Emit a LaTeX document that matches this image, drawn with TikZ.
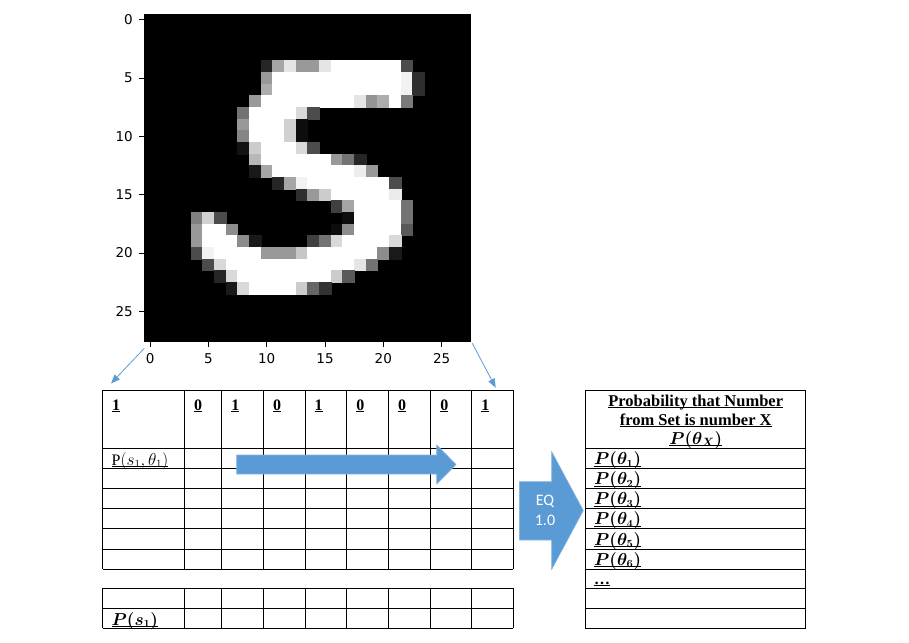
\documentclass[tikz,border=0pt]{standalone}
\usepackage{fontspec}
\setmainfont{Liberation Serif}
\newfontfamily\tickfont{DejaVu Sans}
\newfontfamily\calfont{Carlito}
\usetikzlibrary{arrows.meta}
\definecolor{arrowblue}{RGB}{91,155,213}
\newsavebox{\ulbox}
\newcommand{\ulin}[1]{\sbox{\ulbox}{#1}\rlap{\rule[-1.8pt]{\wd\ulbox}{0.8pt}}\usebox{\ulbox}}
\newcommand{\pxs}{11.66}

\begin{document}
\begin{tikzpicture}
    [ x=1pt, y=-1pt,
      cell/.style={anchor=base west, inner sep=0pt, font=\fontsize{16}{19}\selectfont},
      title/.style={anchor=base, inner sep=0pt, font=\fontsize{16.5}{19}\selectfont},
      tick/.style={font=\tickfont\fontsize{13.5}{14}\selectfont, inner sep=0pt},
      gridline/.style={line width=0.9pt},
      thinarrow/.style={arrowblue, line width=0.8pt, -{Triangle[length=9pt,width=7pt]}},
      blockarrow/.style={fill=arrowblue, draw=arrowblue!75!white, line width=0.6pt} ]

    \useasboundingbox (0,0) rectangle (909,642);

    % digit picture
    \fill[black] (144.3,14) rectangle (470.7,341.7);
    \foreach \r/\a/\b/\g in {4/10/10/15, 4/11/11/65, 4/12/12/90, 4/13/14/60, 4/15/15/90, 4/16/21/100, 4/22/22/30,
        5/10/10/60, 5/11/21/100, 5/22/22/95, 5/23/23/18,
        6/10/10/68, 6/11/21/100, 6/22/22/95, 6/23/23/18,
        7/9/9/60, 7/10/17/100, 7/18/18/90, 7/19/19/58, 7/20/20/68, 7/21/21/100, 7/22/22/48,
        8/8/8/45, 8/9/12/100, 8/13/13/85, 8/14/14/30,
        9/8/8/60, 9/9/11/100, 9/12/12/82, 9/13/13/5,
        10/8/8/52, 10/9/11/100, 10/12/12/82, 10/13/13/5,
        11/8/8/7, 11/9/9/80, 11/10/12/100, 11/13/13/85, 11/14/14/30,
        12/9/9/72, 12/10/15/100, 12/16/16/60, 12/17/17/45, 12/18/18/15,
        13/9/9/10, 13/10/10/65, 13/11/17/100, 13/18/18/93, 13/19/19/60,
        14/11/11/15, 14/12/12/65, 14/13/13/95, 14/14/20/100, 14/21/21/30,
        15/13/13/18, 15/14/14/60, 15/15/15/80, 15/16/20/100, 15/21/21/92,
        16/16/16/25, 16/17/17/65, 16/18/21/100, 16/22/22/45,
        17/4/4/50, 17/5/5/82, 17/6/6/30, 17/17/17/5, 17/18/21/100, 17/22/22/45,
        18/4/4/60, 18/5/6/100, 18/7/7/55, 18/16/16/5, 18/17/17/55, 18/18/21/100, 18/22/22/35,
        19/4/4/60, 19/5/7/100, 19/8/8/55, 19/9/9/10, 19/14/14/25, 19/15/15/45, 19/16/16/85, 19/17/20/100, 19/21/21/85,
        20/4/4/30, 20/5/5/95, 20/6/9/100, 20/10/12/60, 20/13/13/78, 20/14/19/100, 20/20/20/55, 20/21/21/10,
        21/5/5/30, 21/6/6/85, 21/7/17/100, 21/18/18/90, 21/19/19/45,
        22/6/6/15, 22/7/7/85, 22/8/15/100, 22/16/16/80, 22/17/17/35,
        23/7/7/10, 23/8/8/85, 23/9/12/100, 23/13/13/80, 23/14/14/40, 23/15/15/20}
      \filldraw[fill=white!\g!black, draw=white!\g!black, line width=0.3pt]
        ({144.3+\a*\pxs},{14+\r*\pxs}) rectangle ({144.3+(\b+1)*\pxs},{14+(\r+1)*\pxs});

    % axis ticks
    \foreach \t in {0,5,...,25} {
      \draw[line width=0.8pt] (139.3,{14+(\t+0.5)*\pxs}) -- (144.3,{14+(\t+0.5)*\pxs});
      \node[tick, anchor=east] (yt\t) at (133,{14+(\t+0.5)*\pxs}) {\t};
      \draw[line width=0.8pt] ({144.3+(\t+0.5)*\pxs},341.7) -- ({144.3+(\t+0.5)*\pxs},346.7);
      \node[tick, anchor=north] (xt\t) at ({144.3+(\t+0.5)*\pxs},353) {\t};
    }

    % left table
    \foreach \x in {102.5,184.3,221.7,263.3,305,346.7,388.3,430.7,471.7,513.3} {
      \draw[gridline] (\x,390) -- (\x,569.3);
      \draw[gridline] (\x,588.3) -- (\x,628.3);
    }
    \foreach \y in {390,448.3,468.3,488.3,508.3,528.3,549,569.3}
      \draw[gridline] (102.5,\y) -- (513.3,\y);
    \foreach \y in {588.3,608.3,628.3}
      \draw[gridline] (102.5,\y) -- (513.3,\y);

    \foreach \x/\v [count=\i] in {112/1,193.8/0,231.2/1,272.8/0,314.5/1,356.2/0,397.8/0,440.2/0,481.2/1}
      \node[cell] (hd\i) at (\x,410) {\ulin{\textbf{\v}}};
    \node[cell] (pst) at (111.5,465) {\ulin{P$(s_1,\theta_1)$}};
    \node[cell] (ps) at (111.5,625) {\ulin{\boldmath$P(s_1)$}};

    % right table
    \draw[gridline] (585.7,390) rectangle (805.7,628.3);
    \foreach \y in {448.3,468.3,488.3,508.3,528.3,549,569.3,588.3,608.3}
      \draw[gridline] (585.7,\y) -- (805.7,\y);
    \node[title] (ttl1) at (695.7,406) {\ulin{\textbf{Probability that Number}}};
    \node[title] (ttl2) at (695.7,425) {\ulin{\textbf{from Set is number X}}};
    \node[title] (ttl3) at (695.7,444) {\ulin{\boldmath$P(\theta_X)$}};
    \foreach \i/\y in {1/464.5,2/484.5,3/504.5,4/524.5,5/545,6/565}
      \node[cell] (pt\i) at (594,\y) {\ulin{\boldmath$P(\theta_{\i})$}};
    \node[cell] (dots) at (594,584) {\ulin{\textbf{\dots}}};

    % block arrows
    \filldraw[blockarrow] (236.7,455) -- (436.7,455) -- (436.7,445) -- (456,464.5)
      -- (436.7,484) -- (436.7,474) -- (236.7,474) -- cycle;
    \filldraw[blockarrow] (519.3,481.7) -- (551.7,481.7) -- (551.7,451.7) -- (583.3,510.5)
      -- (551.7,569.3) -- (551.7,540) -- (519.3,540) -- cycle;
    \node[font=\calfont\fontsize{16}{20}\selectfont, text=white, align=center] (eq) at (545,510) {EQ\\1.0};

    % thin arrows
    \coordinate (imgsw) at (144.3,348.3);
    \coordinate (tabnw) at (111,383.5);
    \coordinate (imgse) at (472.3,343.3);
    \coordinate (tabne) at (495.7,387.7);
    \draw[thinarrow] (imgsw) -- (tabnw);
    \draw[thinarrow] (imgse) -- (tabne);

\end{tikzpicture}
\end{document}
